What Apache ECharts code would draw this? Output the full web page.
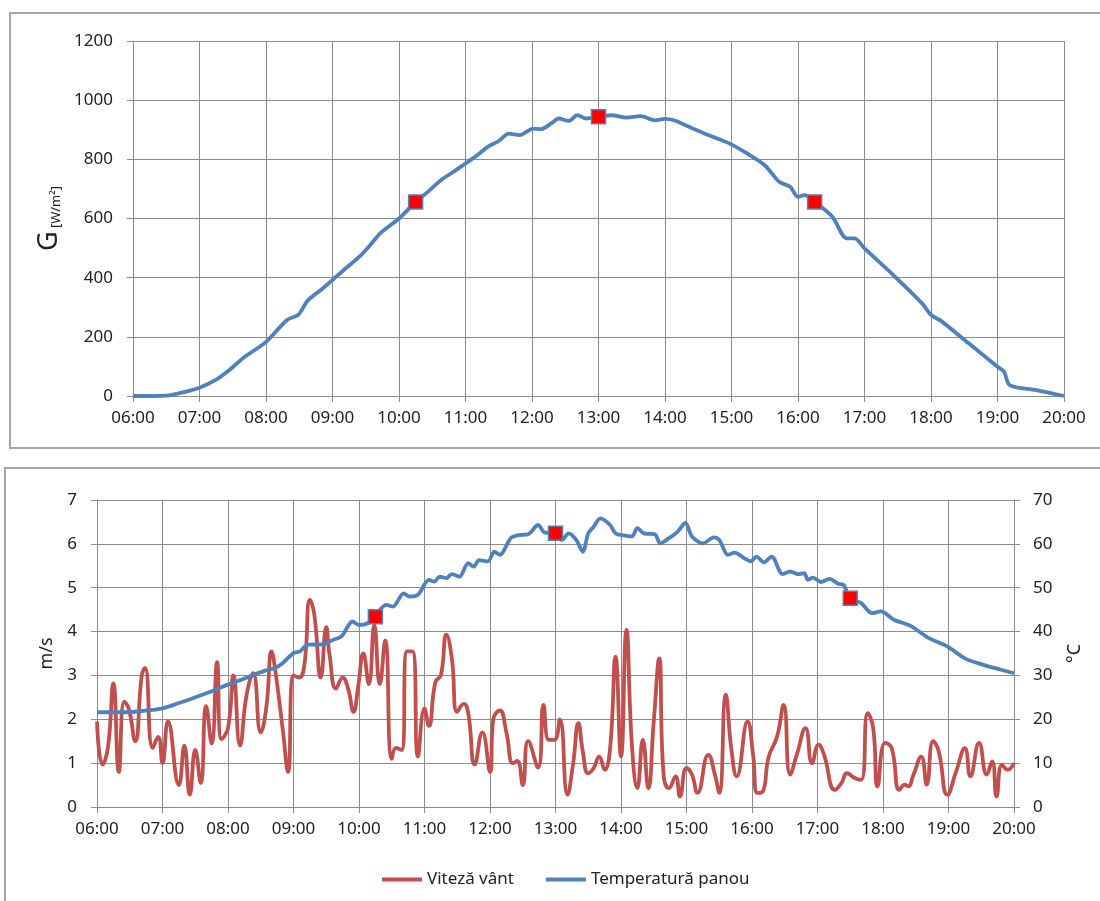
<!DOCTYPE html>
<html>
<head>
<meta charset="utf-8">
<script src="https://cdn.jsdelivr.net/npm/echarts@6/dist/echarts.min.js"></script>
<style>
html, body { margin: 0; padding: 0; background: #fff; }
#main { width: 1100px; height: 901px; }
</style>
</head>
<body>
<div id="main"></div>
<script>
// minutes after 06:00 and values
var irrTime = [0, 20, 30, 34, 45, 60, 75, 87, 100, 120, 139, 149, 158, 170, 180, 192, 204, 214, 223, 240, 255, 266, 278, 290, 300, 310, 320, 330, 339, 349, 361, 368, 378, 384, 393, 401, 409, 420, 432, 445, 458, 471, 480, 488, 503, 519, 538, 554, 570, 583, 593, 600, 606, 615, 631, 644, 651, 660, 686, 712, 720, 729, 754, 780, 786, 791, 815, 840];
var irrValue = [0, 0, 1, 3, 12, 28, 55, 88, 130, 183, 257, 274, 324, 360, 392, 432, 470, 510, 550, 600, 656, 690, 730, 760, 786, 812, 842, 862, 887, 882, 904, 902, 923, 938, 930, 949, 938, 944, 949, 941, 946, 932, 937, 932, 908, 882, 854, 820, 780, 724, 707, 673, 679, 656, 606, 533, 533, 499, 409, 313, 274, 254, 178, 99, 82, 37, 20, 0];
var irrMarkTime = [255, 420, 615];
var irrMarkValue = [656, 944, 656];

var windTime = [0, 5, 10, 15, 20, 25, 29, 35, 41, 44, 51, 56, 60, 65, 75, 80, 85, 90, 95, 100, 105, 110, 114, 120, 125, 131, 137, 143, 150, 155, 160, 163, 170, 175, 180, 185, 190, 195, 199, 205, 210, 213, 219, 225, 230, 235, 239, 244, 249, 254, 259, 264, 270, 274, 279, 284, 289, 294, 300, 304, 310, 315, 320, 325, 330, 336, 340, 346, 353, 360, 363, 369, 375, 381, 385, 390, 395, 404, 409, 414, 419, 424, 431, 436, 441, 445, 450, 455, 460, 465, 470, 475, 480, 485, 490, 495, 500, 505, 510, 515, 519, 524, 530, 534, 540, 545, 550, 560, 566, 570, 576, 581, 586, 596, 601, 605, 610, 615, 623, 629, 635, 641, 649, 655, 661, 666, 676, 682, 687, 694, 700, 706, 711, 715, 722, 728, 735, 740, 743, 748, 755, 760, 766, 771, 779, 787, 795, 800, 808, 815, 820, 824, 829, 834, 840];
var windSpeed = [1.95, 0.97, 1.35, 2.82, 0.8, 2.4, 2.25, 1.5, 3.0, 3.17, 1.35, 1.6, 1.0, 1.95, 0.5, 1.4, 0.28, 1.3, 0.55, 2.3, 1.45, 3.3, 1.55, 1.8, 3.0, 1.4, 2.55, 3.05, 1.7, 2.25, 3.55, 3.17, 1.8, 0.8, 3.0, 2.95, 3.25, 4.72, 4.4, 2.95, 4.1, 3.47, 2.7, 2.95, 2.7, 2.17, 2.7, 3.5, 2.8, 4.15, 2.8, 3.8, 1.1, 1.35, 1.3, 3.55, 3.55, 1.15, 2.25, 1.85, 2.85, 3.0, 3.93, 3.4, 2.17, 2.35, 2.15, 0.97, 1.7, 0.8, 2.0, 2.2, 1.7, 1.0, 1.05, 0.5, 1.5, 0.9, 2.33, 1.53, 1.53, 2.0, 0.28, 0.96, 1.91, 1.27, 0.77, 0.89, 1.15, 0.85, 1.34, 3.43, 1.15, 4.04, 1.42, 0.43, 1.53, 0.43, 1.95, 3.39, 0.74, 0.43, 0.7, 0.24, 0.89, 0.74, 0.32, 1.19, 0.74, 0.32, 2.56, 1.34, 0.7, 1.95, 1.19, 0.32, 0.36, 1.12, 1.61, 2.33, 0.74, 1.19, 1.8, 1.0, 1.42, 1.19, 0.39, 0.55, 0.77, 0.66, 0.62, 2.14, 1.8, 0.47, 1.46, 1.34, 0.39, 0.51, 0.47, 0.74, 1.15, 0.51, 1.5, 1.27, 0.28, 0.81, 1.34, 0.7, 1.46, 0.74, 1.04, 0.24, 0.96, 0.85, 1.0];

var tempTime = [0, 26, 42, 60, 75, 92, 108, 120, 134, 154, 163, 170, 180, 186, 193, 206, 216, 224, 234, 240, 248, 254, 265, 271, 281, 286, 294, 304, 309, 314, 320, 325, 332, 340, 345, 350, 358, 364, 369, 379, 386, 395, 404, 410, 420, 426, 432, 439, 445, 450, 455, 461, 470, 475, 481, 490, 495, 501, 511, 516, 524, 532, 539, 545, 555, 565, 570, 578, 584, 593, 599, 604, 611, 618, 628, 635, 642, 648, 651, 656, 663, 671, 679, 684, 690, 700, 710, 718, 730, 746, 762, 779, 795, 812, 828, 840];
var tempValue = [21.6, 21.6, 21.9, 22.5, 23.7, 25.2, 26.7, 27.9, 29.2, 31.1, 31.7, 32.8, 35.1, 35.5, 37.0, 37.1, 38.1, 38.9, 42.3, 41.5, 41.9, 43.4, 46.1, 45.7, 48.7, 48.0, 48.4, 51.8, 51.4, 52.5, 52.2, 53.1, 52.5, 55.6, 54.8, 56.3, 56.0, 58.2, 57.5, 61.3, 62.0, 62.2, 64.3, 62.6, 62.4, 60.9, 62.4, 60.9, 58.2, 62.4, 63.9, 65.8, 64.3, 62.4, 62.0, 61.7, 63.6, 62.4, 62.2, 60.1, 61.3, 62.8, 64.8, 61.7, 60.1, 61.5, 60.9, 57.5, 58.0, 56.7, 56.0, 57.1, 55.8, 57.1, 53.1, 53.7, 53.1, 53.3, 51.8, 52.3, 51.3, 52.0, 50.9, 50.6, 47.6, 46.5, 44.2, 44.6, 42.7, 41.2, 38.5, 36.6, 33.9, 32.4, 31.3, 30.5];
var tempMarkTime = [255, 420, 690];
var tempMarkValue = [43.4, 62.4, 47.6];

var timeMin = 360, timeMax = 1200;

function pairs(times, vals) {
	var out = [];
	for (var i = 0; i < times.length; i++) {
		out.push([timeMin + times[i], vals[i]]);
	}
	return out;
}

function hhmm(v) {
	var h = Math.floor(v / 60), m = v % 60;
	return (h < 10 ? '0' : '') + h + ':' + (m < 10 ? '0' : '') + m;
}

function plain(v) {
	return String(v);
}

var font = 'Noto Sans';
var gridColor = '#8c8c8c';
var txt = { color: '#222', fontFamily: font, fontSize: 17 };

function xAxisFor(gridIndex) {
	return {
		type: 'value', gridIndex: gridIndex,
		min: timeMin, max: timeMax, interval: 60,
		axisLine: { lineStyle: { color: gridColor } },
		axisTick: { length: 6, lineStyle: { color: gridColor } },
		splitLine: { show: true, lineStyle: { color: gridColor, width: 1 } },
		axisLabel: { color: '#222', fontFamily: font, fontSize: 17, margin: 14, formatter: hhmm }
	};
}

var myChart = echarts.init(document.getElementById('main'));
var option = {
	animation: false,
	backgroundColor: '#fff',
	graphic: [
		{ type: 'rect', shape: { x: 10, y: 13, width: 1110, height: 435 }, style: { fill: 'none', stroke: '#a6a6a6', lineWidth: 2 } },
		{ type: 'rect', shape: { x: 5, y: 468, width: 1120, height: 460 }, style: { fill: 'none', stroke: '#a6a6a6', lineWidth: 2 } }
	],
	grid: [
		{ left: 133, top: 41, width: 931, height: 355 },
		{ left: 97, top: 500, width: 917, height: 307 }
	],
	legend: {
		data: ['Viteză vânt', 'Temperatură panou'],
		left: 377, top: 866,
		icon: 'rect', itemWidth: 40, itemHeight: 4, itemGap: 32,
		textStyle: txt
	},
	xAxis: [xAxisFor(0), xAxisFor(1)],
	yAxis: [
		{
			type: 'value', gridIndex: 0, min: 0, max: 1200, interval: 200,
			name: '{g|G} {u|[W/m²]}', nameLocation: 'middle', nameRotate: 90, nameGap: 62,
			nameTextStyle: {
				rich: {
					g: { fontFamily: font, fontSize: 27, color: '#222' },
					u: { fontFamily: font, fontSize: 13, color: '#222', verticalAlign: 'bottom' }
				}
			},
			axisLine: { show: true, lineStyle: { color: gridColor } },
			axisTick: { show: true, length: 6, lineStyle: { color: gridColor } },
			splitLine: { lineStyle: { color: gridColor, width: 1 } },
			axisLabel: { color: '#222', fontFamily: font, fontSize: 17, margin: 20, formatter: plain }
		},
		{
			type: 'value', gridIndex: 1, min: 0, max: 7, interval: 1,
			name: 'm/s', nameLocation: 'middle', nameRotate: 90, nameGap: 41,
			nameTextStyle: { color: '#222', fontFamily: font, fontSize: 18 },
			axisLine: { show: true, lineStyle: { color: gridColor } },
			axisTick: { show: true, length: 6, lineStyle: { color: gridColor } },
			splitLine: { lineStyle: { color: gridColor, width: 1 } },
			axisLabel: { color: '#222', fontFamily: font, fontSize: 17, margin: 20, formatter: plain }
		},
		{
			type: 'value', gridIndex: 1, position: 'right', min: 0, max: 70, interval: 10,
			name: '°C', nameLocation: 'middle', nameRotate: 90, nameGap: 52,
			nameTextStyle: { color: '#222', fontFamily: font, fontSize: 18 },
			axisLine: { show: true, lineStyle: { color: gridColor } },
			axisTick: { show: true, length: 6, lineStyle: { color: gridColor } },
			splitLine: { show: false },
			axisLabel: { color: '#222', fontFamily: font, fontSize: 17, margin: 19, formatter: plain }
		}
	],
	series: [
		{
			name: 'G', type: 'line', xAxisIndex: 0, yAxisIndex: 0,
			data: pairs(irrTime, irrValue), smooth: 0.3, showSymbol: false,
			lineStyle: { color: '#4F81BD', width: 3.8 }
		},
		{
			name: 'G marks', type: 'scatter', xAxisIndex: 0, yAxisIndex: 0,
			data: pairs(irrMarkTime, irrMarkValue), symbol: 'rect', symbolSize: 14, z: 5,
			itemStyle: { color: '#FF0000', borderColor: '#4F81BD', borderWidth: 1.5, opacity: 1 }
		},
		{
			name: 'Viteză vânt', type: 'line', xAxisIndex: 1, yAxisIndex: 1,
			data: pairs(windTime, windSpeed), smooth: 0.5, showSymbol: false,
			itemStyle: { color: '#C0504D' },
			lineStyle: { color: '#C0504D', width: 3.8 }
		},
		{
			name: 'Temperatură panou', type: 'line', xAxisIndex: 1, yAxisIndex: 2,
			data: pairs(tempTime, tempValue), smooth: 0.3, showSymbol: false,
			itemStyle: { color: '#4F81BD' },
			lineStyle: { color: '#4F81BD', width: 3.8 }
		},
		{
			name: 'T marks', type: 'scatter', xAxisIndex: 1, yAxisIndex: 2,
			data: pairs(tempMarkTime, tempMarkValue), symbol: 'rect', symbolSize: 14, z: 5,
			itemStyle: { color: '#FF0000', borderColor: '#4F81BD', borderWidth: 1.5, opacity: 1 }
		}
	]
};
myChart.setOption(option);
</script>
</body>
</html>
